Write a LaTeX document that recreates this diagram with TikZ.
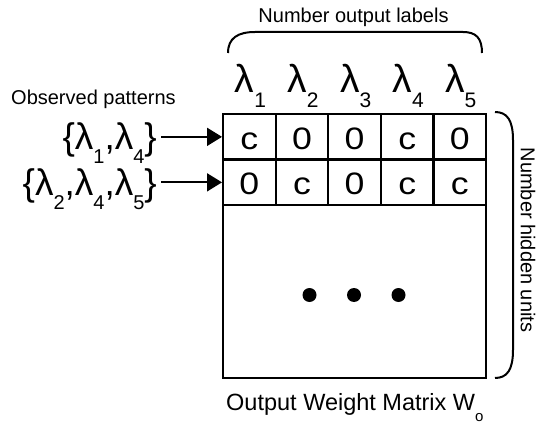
\documentclass[tikz,border=0pt]{standalone}
\usepackage{fontspec}
\setmainfont{Liberation Sans}
\newfontfamily\cellfont[FakeStretch=1.15]{Liberation Sans}
\usetikzlibrary{arrows.meta}
\newcommand\lsub[1]{λ\raisebox{-15pt}{\fontsize{21}{21}\selectfont #1}}
\newcommand\lsubl[1]{λ\raisebox{-14pt}{\fontsize{20}{20}\selectfont #1}}
\begin{document}
\begin{tikzpicture}[x=1pt,y=-1pt,
  cell/.style={draw, line width=2.2pt, minimum width=52.6pt, minimum height=45.5pt,
    inner sep=0pt, anchor=north west, font=\cellfont\fontsize{31}{31}\selectfont,
    text height=25pt, text depth=0pt},
  lam/.style={inner sep=0pt, font=\fontsize{39}{40}\selectfont},
  laml/.style={inner sep=0pt, font=\fontsize{37}{38}\selectfont},
  lbl/.style={inner sep=0pt, font=\fontsize{20}{24}\selectfont},
  arr/.style={line width=1.8pt, -{Triangle[length=15pt,width=18pt]}},
  brk/.style={line width=2pt},
  dotmark/.style={circle, fill=black, minimum size=14pt, inner sep=0pt}]
\useasboundingbox (0,0) rectangle (536,425);
\node[draw, line width=2.2pt, minimum width=263pt, minimum height=264pt,
  anchor=north west, inner sep=0pt] (mat) at (222,113) {};
\foreach \v [count=\i] in {c,0,0,c,0}
  \node[cell] (a\i) at ({222+52.6*(\i-1)},113) {\v};
\foreach \v [count=\i] in {0,c,0,c,c}
  \node[cell] (b\i) at ({222+52.6*(\i-1)},158.5) {\v};
\foreach \i in {1,...,5}
  \node[lam, anchor=base] (t\i) at ([xshift=1pt]a\i.north |- 0,93) {\lsub{\i}};
\node[laml, anchor=base east] (p1) at (157,150) {\{\lsubl{1},\lsubl{4}\}};
\node[laml, anchor=base east] (p2) at (157,196) {\{\lsubl{2},\lsubl{4},\lsubl{5}\}};
\draw[arr] ([xshift=4pt]p1.east |- a1.west) -- (a1.west);
\draw[arr] ([xshift=4pt]p2.east |- b1.west) -- (b1.west);
\node[dotmark] (d1) at (309.5,295) {};
\node[dotmark] (d2) at (354,295) {};
\node[dotmark] (d3) at (398.5,295) {};
\node[lbl, anchor=base] (toplbl) at (353.5,22.7) {Number output labels};
\node[lbl, anchor=base west] (obs) at (11,105) {Observed patterns};
\node[lbl, rotate=-90] (side) at (528,240) {Number hidden units};
\node[inner sep=0pt, anchor=base west, font=\fontsize{23.5}{28}\selectfont] (cap)
  at (226,410) {Output Weight Matrix W\raisebox{-11pt}{\fontsize{15}{15}\selectfont o}};
\draw[brk] (228,53) .. controls (228,38) and (238,32) .. (255,32) -- (463,32)
  .. controls (476,32) and (482,38) .. (482,53);
\draw[brk] (495,112) .. controls (507,112) and (513,120) .. (513,140) -- (513,350)
  .. controls (513,370) and (507,378) .. (495,378);
\end{tikzpicture}
\end{document}
